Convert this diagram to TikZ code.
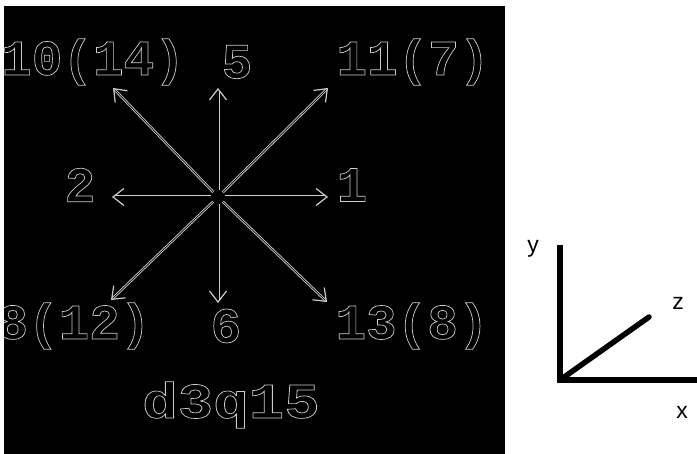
\documentclass[tikz,border=0pt]{standalone}
\usepackage{fontspec}
\usepackage{xcolor}
\usetikzlibrary{arrows.meta,positioning}
\setmainfont{Liberation Sans}
\newfontfamily\labelfont{Liberation Mono Bold}
\definecolor{edgegray}{RGB}{205,205,205}
\newcommand{\outlined}[1]{\special{pdf:literal direct 1 Tr 0.7 w}#1\special{pdf:literal direct 0 Tr 1 w}}
\tikzset{
  dirlabel/.style={text=edgegray, inner sep=0pt, xscale=1.02, font=\labelfont\fontsize{50}{50}\selectfont},
  dirarrow/.style={-{Straight Barb[length=11pt,width=17pt,line width=1.2pt]}, draw=edgegray, line width=0.9pt, double=black, double distance=1.2pt},
  diagarrow/.style={dirarrow, double distance=0.7pt},
  axisline/.style={line width=5.5pt, line cap=butt},
  axislabel/.style={inner sep=0pt, font=\fontsize{23}{23}\selectfont}
}

\begin{document}
\begin{tikzpicture}[x=1pt,y=1pt]
    \useasboundingbox (0,0) rectangle (697,454);
    \fill[black] (4,0) rectangle (505,448);

    \begin{scope}
        \clip (4,0) rectangle (505,448);
        \node[dirlabel] (n10) at (93,392) {\outlined{10(14)}};
        \node[dirlabel] (n5) at (237,392) {\outlined{5}};
        \node[dirlabel] (n11) at (413,392) {\outlined{11(7)}};
        \node[dirlabel] (n2) at (80,269) {\outlined{2}};
        \node[dirlabel] (n1) at (352,269) {\outlined{1}};
        \node[dirlabel] (n8) at (74,128) {\outlined{8(12)}};
        \node[dirlabel] (n6) at (226,128) {\outlined{6}};
        \node[dirlabel] (n13) at (412,128) {\outlined{13(8)}};
        \node[dirlabel, xscale=1.16] (title) at (231,49) {\outlined{d3q15}};
    \end{scope}

    \node[circle, fill=black, minimum size=13pt, inner sep=0pt] (O) at (218,257) {};
    \coordinate (t10) at (113,366);
    \coordinate (t5) at (218,366);
    \coordinate (t11) at (328,366);
    \coordinate (t2) at (112,257);
    \coordinate (t1) at (328,257);
    \coordinate (t8) at (111,154);
    \coordinate (t6) at (218,151);
    \coordinate (t13) at (327,152);

    \draw[diagarrow] (O) -- (t10);
    \draw[dirarrow] (O) -- (t5);
    \draw[diagarrow] (O) -- (t11);
    \draw[dirarrow] (O) -- (t2);
    \draw[dirarrow] (O) -- (t1);
    \draw[diagarrow] (O) -- (t8);
    \draw[dirarrow] (O) -- (t6);
    \draw[diagarrow] (O) -- (t13);

    \coordinate (org) at (560,74);
    \coordinate (yend) at (560,209);
    \coordinate (xend) at (697,74);
    \coordinate (zend) at (649,137);
    \draw[axisline] (yend) -- (org) -- (xend);
    \draw[axisline, line cap=round] (org) -- (zend);

    \node[axislabel] (ylab) at (533,205) {y};
    \node[axislabel] (zlab) at (678,151) {z};
    \node[axislabel] (xlab) at (682,42) {x};
\end{tikzpicture}
\end{document}
